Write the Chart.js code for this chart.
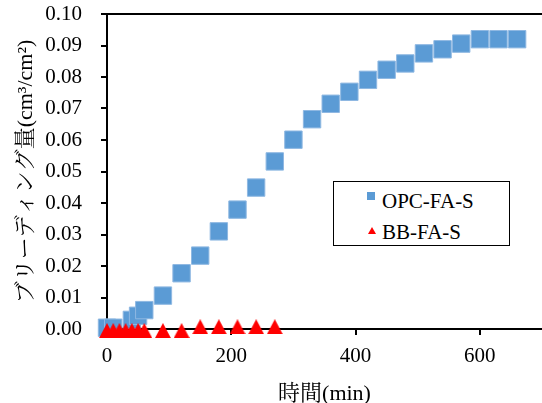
<!DOCTYPE html>
<html>
<head>
<meta charset="utf-8">
<script src="https://cdn.jsdelivr.net/npm/chart.js@4/dist/chart.umd.min.js"></script>
<style>
  html, body { margin: 0; padding: 0; background: #fff; }
  #wrap { position: relative; width: 542px; height: 403px; overflow: hidden; }
  #c { position: absolute; left: 0; top: 0; }
  #legend { position: absolute; left: 333px; top: 181px; width: 175px; height: 63px;
            border: 1.5px solid #000; background: #fff; }
  .lg-text { position: absolute; font-family: 'Liberation Serif', 'Times New Roman', serif;
             font-size: 21px; line-height: 21px; color: #000; white-space: nowrap; }
  .lg-mark { position: absolute; }
</style>
</head>
<body>
<div id="wrap">
  <canvas id="c" width="542" height="403"></canvas>
  <div id="legend"></div>
</div>
<script>
// ---- data ----
const seriesNames = ['OPC-FA-S', 'BB-FA-S'];
const opcTime  = [0, 10, 40, 50, 60, 90, 120, 150, 180, 210, 240, 270, 300, 330, 360, 390, 420, 450, 480, 510, 540, 570, 600, 630, 660];
const opcBleed = [0.0004, 0.0004, 0.0029, 0.0042, 0.0060, 0.0106, 0.0177, 0.0233, 0.0310, 0.0379, 0.0449, 0.0532, 0.0601, 0.0666, 0.0715, 0.0753, 0.0791, 0.0823, 0.0843, 0.0875, 0.0888, 0.0906, 0.0920, 0.0920, 0.0920];
const bbTime   = [0, 10, 20, 30, 40, 50, 60, 90, 120, 150, 180, 210, 240, 270];
const bbBleed  = [-0.0005, -0.0005, -0.0005, -0.0005, -0.0005, -0.0005, -0.0005, -0.0005, -0.0005, 0.0007, 0.0007, 0.0007, 0.0007, 0.0007];
const xTickValues = [0, 200, 400, 600];
const xTitle = '時間(min)';
const yTitle = 'ブリーディング量(cm³/cm²)';

const BLUE = '#5B9BD5';
const RED = '#FF0000';
const FONT = "'Liberation Serif', 'Times New Roman', 'Noto Serif CJK JP', 'Noto Sans CJK JP', serif";

function triCanvas(w, h, color) {
  const c = document.createElement('canvas');
  c.width = w; c.height = h;
  const g = c.getContext('2d');
  g.fillStyle = color;
  g.beginPath();
  g.moveTo(w / 2, 0); g.lineTo(w, h); g.lineTo(0, h); g.closePath();
  g.fill();
  return c;
}
const tri = triCanvas(16, 15, RED);

const toPts = (xs, ys) => xs.map((x, i) => ({ x: x, y: ys[i] }));

const chart = new Chart(document.getElementById('c'), {
  type: 'scatter',
  data: {
    datasets: [
      { label: seriesNames[0], data: toPts(opcTime, opcBleed), pointStyle: 'rect',
        pointRadius: 12.3, pointHoverRadius: 12.3, backgroundColor: BLUE,
        borderColor: '#8FB8E2', borderWidth: 1, showLine: false, clip: false, order: 1 },
      { label: seriesNames[1], data: toPts(bbTime, bbBleed), pointStyle: tri,
        pointRadius: 8, backgroundColor: RED, borderColor: RED, borderWidth: 0,
        showLine: false, clip: false, order: 0 }
    ]
  },
  options: {
    responsive: false,
    animation: false,
    events: [],
    layout: { autoPadding: false, padding: { top: 14, left: 0, right: 0, bottom: 0 } },
    plugins: { legend: { display: false }, tooltip: { enabled: false } },
    scales: {
      x: {
        type: 'linear', position: 'bottom', min: 0, max: 700,
        afterBuildTicks: (s) => { s.ticks = xTickValues.map(v => ({ value: v })); },
        afterFit: (s) => { s.height = 74; s.paddingLeft = 0; s.paddingRight = 0; },
        ticks: { stepSize: 200, color: '#000', padding: 9, font: { family: FONT, size: 21 },
                 maxRotation: 0 },
        grid: { drawOnChartArea: false, drawTicks: true, tickLength: 6, color: '#000', lineWidth: 2 },
        border: { display: true, color: '#000', width: 2 },
        title: { display: true, text: xTitle, color: '#000',
                 font: { family: FONT, size: 22, lineHeight: 1 }, padding: { top: 0, bottom: -2 } }
      },
      y: {
        type: 'linear', position: 'left', min: 0, max: 0.1,
        afterFit: (s) => { s.width = 107; s.paddingTop = 0; s.paddingBottom = 0; },
        ticks: { stepSize: 0.01, color: '#000', padding: 19, font: { family: FONT, size: 21 },
                 callback: (v) => Number(v).toFixed(2) },
        grid: { drawOnChartArea: true, drawTicks: true, tickLength: 6, lineWidth: 2,
                color: (ctx) => (ctx.tick && Math.abs(ctx.tick.value - 0.1) < 1e-6) ? '#000' : 'rgba(0,0,0,0)',
                tickColor: '#000' },
        border: { display: true, color: '#000', width: 2 },
        title: { display: true, text: yTitle, color: '#000',
                 font: { family: FONT, size: 22, lineHeight: 1 }, padding: { top: 15, bottom: 0 } }
      }
    }
  }
});

// legend built from the dataset labels
(function buildLegend() {
  const wrap = document.getElementById('wrap');
  const ds = chart.data.datasets;
  const rows = [
    { top: 191, markTop: 191.5 },
    { top: 222, markTop: 226.5 }
  ];
  ds.forEach((d, i) => {
    const r = rows[i];
    const t = document.createElement('div');
    t.className = 'lg-text';
    t.style.left = '382px';
    t.style.top = r.top + 'px';
    t.textContent = d.label;
    wrap.appendChild(t);
    let m;
    if (i === 0) {
      m = document.createElement('div');
      m.className = 'lg-mark';
      m.style.left = '367px'; m.style.top = r.markTop + 'px';
      m.style.width = '8px'; m.style.height = '8px';
      m.style.background = BLUE;
    } else {
      m = triCanvas(8, 7, RED);
      m.className = 'lg-mark';
      m.style.left = '368px'; m.style.top = r.markTop + 'px';
    }
    wrap.appendChild(m);
  });
})();
</script>
</body>
</html>
